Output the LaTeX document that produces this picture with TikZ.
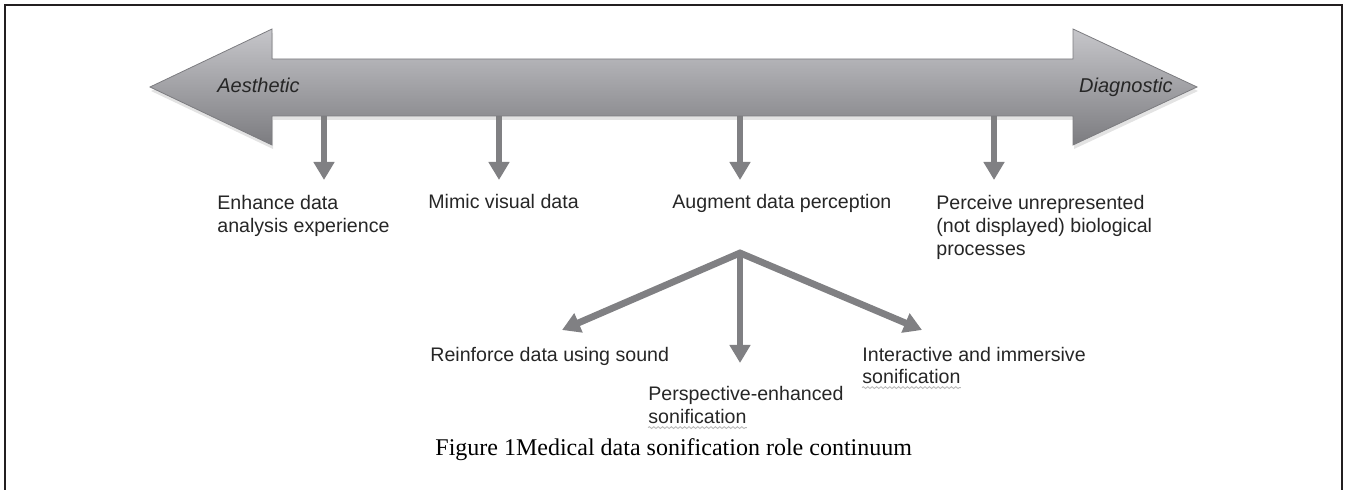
\documentclass[tikz,border=0pt]{standalone}
\usepackage{fontspec}
\setmainfont{Liberation Serif}
\setsansfont{Liberation Sans}
\usepackage{xcolor}
\usetikzlibrary{arrows.meta, positioning, shadows, decorations.pathmorphing}

\definecolor{shafttop}{RGB}{198,198,202}
\definecolor{shaftbot}{RGB}{124,124,128}
\definecolor{stemgray}{RGB}{128,128,131}
\definecolor{framegray}{RGB}{35,31,32}

\begin{document}
\begin{tikzpicture}[
    x=0.5pt, y=-0.5pt,
    bigarrow/.style={top color=shafttop, bottom color=shaftbot,
                     draw=shaftbot, line width=0.4pt,
                     drop shadow={opacity=0.22, shadow xshift=0.5pt, shadow yshift=-2pt}},
    stem/.style={draw=stemgray, line width=3.4pt, -{Triangle[width=10pt, length=9pt]}},
    lbl/.style={inner sep=0pt, anchor=base west, align=left, text=black!85,
                font=\sffamily\fontsize{9.8}{11.5}\selectfont},
    pole/.style={lbl, font=\sffamily\itshape\fontsize{10}{12}\selectfont},
    capt/.style={inner sep=0pt, anchor=base west, font=\rmfamily\fontsize{12}{14}\selectfont},
    squiggle/.style={draw=gray!55, line width=0.45pt, decorate,
                     decoration={snake, amplitude=0.45pt, segment length=2.2pt}}
  ]
  \useasboundingbox (0,0) rectangle (1347,490);
  % open frame, no rule at the bottom
  \draw[framegray, line width=1.4pt] (5,490) -- (5,5) -- (1342,5) -- (1342,490);

  % stems hanging from the continuum
  \foreach \x/\n in {324/1, 499/2, 740/3, 994/4} {
    \coordinate (s\n) at (\x,112);
    \coordinate (t\n) at (\x,180);
    \draw[stem] (s\n) -- (t\n);
  }

  % the continuum itself
  \path[bigarrow] (150,87) -- (272,29) -- (272,59) -- (1073,59) -- (1073,29)
    -- (1197,87) -- (1073,145) -- (1073,116) -- (272,116) -- (272,145) -- cycle;
  \node[pole] (aesthetic) at (217,93) {Aesthetic};
  \node[pole, anchor=base east] (diagnostic) at (1173,93) {Diagnostic};

  % roles
  \node[lbl, anchor=north west] (enhance) at (217,195) {Enhance data\\analysis experience};
  \node[lbl] (mimic) at (428,209) {Mimic visual data};
  \node[lbl] (augment) at (672,209) {Augment data perception};
  \node[lbl, anchor=north west] (perceive) at (936,195)
    {Perceive unrepresented\\(not displayed) biological\\processes};

  % augment splits three ways
  \coordinate (root) at (740,253);
  \coordinate (tl) at (562,330);
  \coordinate (tm) at (740,363);
  \coordinate (tr) at (922,330);
  \draw[stem, {Triangle[width=10pt, length=9pt]}-{Triangle[width=10pt, length=9pt]},
        line join=miter] (tl) -- (root) -- (tr);
  \draw[stem] (root) -- (tm);

  \node[lbl] (reinforce) at (430,362) {Reinforce data using sound};
  \node[lbl] (perspective) at (648,401) {Perspective-enhanced};
  \node[lbl] (perspson) at ([yshift=-11.5pt]perspective.base west) {sonification};
  \node[lbl] (interactive) at (862,362) {Interactive and immersive};
  \node[lbl] (interson) at ([yshift=-11pt]interactive.base west) {sonification};
  \foreach \n in {perspson, interson}
    \draw[squiggle] ([yshift=-1.8pt]\n.base west) -- ([yshift=-1.8pt]\n.base east);

  \node[capt] (caption) at (435,456) {Figure 1Medical data sonification role continuum};
\end{tikzpicture}
\end{document}
